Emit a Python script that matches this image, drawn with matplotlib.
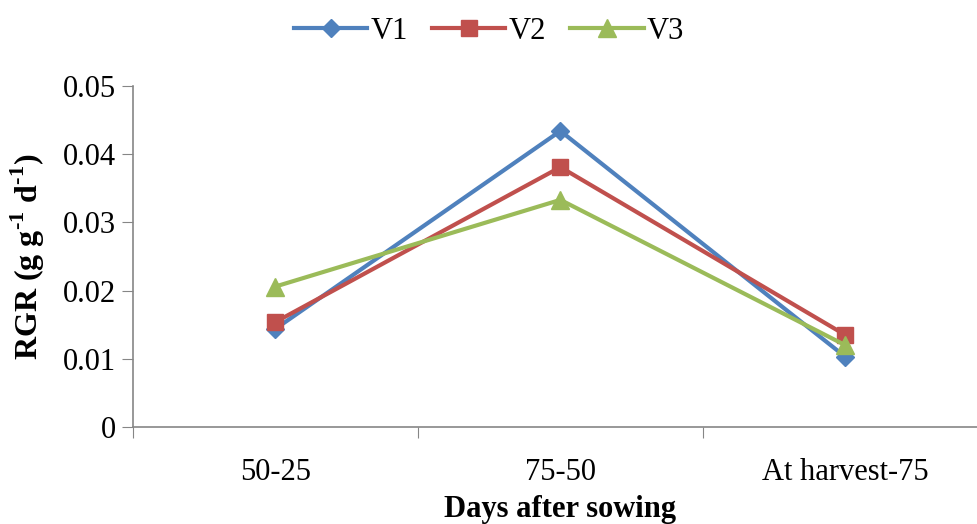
import matplotlib
matplotlib.use("Agg")
import matplotlib.pyplot as plt

# RGR by growth interval for three varieties
stages = ["50-25", "75-50", "At harvest-75"]
v1 = [0.0144, 0.0434, 0.0103]
v2 = [0.0154, 0.0381, 0.0135]
v3 = [0.0206, 0.0333, 0.0120]
yticks = [0, 0.01, 0.02, 0.03, 0.04, 0.05]
ytick_labels = ["0", "0.01", "0.02", "0.03", "0.04", "0.05"]

plt.rcParams["font.family"] = ["Liberation Serif", "DejaVu Serif"]
plt.rcParams["mathtext.fontset"] = "custom"
plt.rcParams["mathtext.rm"] = "Liberation Serif:bold"
plt.rcParams["mathtext.bf"] = "Liberation Serif:bold"

fig = plt.figure(figsize=(9.78, 5.24), dpi=100)
ax = fig.add_axes([0.136, 0.185, 0.874, 0.651])

x = range(len(stages))
ax.plot(x, v1, color="#4F81BD", lw=3, marker="D", ms=9, label="V1")
ax.plot(x, v2, color="#C0504D", lw=3, marker="s", ms=12, label="V2")
ax.plot(x, v3, color="#9BBB59", lw=3, marker="^", ms=13, label="V3")

ax.set_xlim(-0.5, 2.5)
ax.set_ylim(0, 0.05)
ax.set_yticks(yticks)
ax.set_yticklabels(ytick_labels, fontsize=22)

# category labels centered, tick marks on the boundaries
ax.set_xticks([-0.5, 0.5, 1.5, 2.5])
ax.set_xticklabels([])
ax.set_xticks(list(x), minor=True)
ax.set_xticklabels(stages, minor=True, fontsize=22)
ax.tick_params(axis="x", which="minor", length=0, pad=22)
ax.tick_params(axis="x", which="major", length=8, color="#868686", direction="out")
ax.tick_params(axis="y", length=8, color="#868686", direction="out", pad=4)

for side in ["top", "right"]:
    ax.spines[side].set_visible(False)
for side in ["left", "bottom"]:
    ax.spines[side].set_color("#868686")
    ax.spines[side].set_linewidth(1.2)

ax.set_ylabel(r"RGR (g g$^{\text{-}1}$ d$^{\text{-}1}$)", fontsize=23,
              fontweight="bold", labelpad=12)
ax.set_xlabel("Days after sowing", fontsize=22, fontweight="bold", labelpad=6)

fig.legend(loc="upper center", bbox_to_anchor=(0.5, 1.02), ncol=3, frameon=False,
           fontsize=22, handlelength=2.4, handletextpad=0.1, columnspacing=0.8)

fig.savefig("out.png", dpi=100)
